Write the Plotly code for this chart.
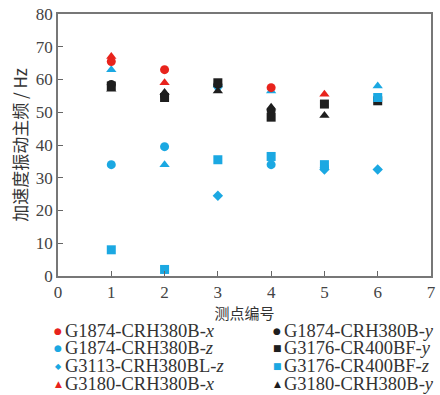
import plotly.graph_objects as go

# data
names = ["G1874-CRH380B-x", "G1874-CRH380B-y", "G1874-CRH380B-z", "G3176-CR400BF-y",
         "G3113-CRH380BL-z", "G3176-CR400BF-z", "G3180-CRH380B-x", "G3180-CRH380B-y"]
g1874_x_pts = [1, 2, 4];             g1874_x_val = [65.5, 63.0, 57.5]
g1874_y_pts = [1, 2, 3, 4];          g1874_y_val = [58.5, 55.0, 58.5, 50.5]
g1874_z_pts = [1, 2, 3, 4, 5];       g1874_z_val = [34.0, 39.5, 58.0, 34.0, 33.2]
g3113_z_pts = [3, 5, 6];             g3113_z_val = [24.5, 32.5, 32.5]
g3176_y_pts = [1, 2, 3, 4, 5, 6];    g3176_y_val = [58.0, 54.5, 59.0, 48.5, 52.5, 53.5]
g3176_z_pts = [1, 2, 3, 4, 5, 6];    g3176_z_val = [8.0, 2.0, 35.5, 36.5, 34.0, 54.5]
g3180_x_pts = [1, 2, 5];             g3180_x_val = [67.0, 59.0, 55.5]
g3180_y_pts = [1, 2, 3, 4, 5];       g3180_y_val = [57.0, 56.0, 56.5, 51.5, 49.0]
extra_tri_pts = [1, 2, 3, 4, 6];     extra_tri_val = [63.0, 34.0, 58.3, 56.5, 58.0]

RED = "#e8231c"
CYAN = "#1ba8e2"
BLACK = "#1e1e1e"

# (name, xs, ys, symbol, colour, legend glyph, legend column, legend row)
series = [
    (names[0], g1874_x_pts, g1874_x_val, "circle", RED, "●", 0, 0),
    (names[2], g1874_z_pts, g1874_z_val, "circle", CYAN, "●", 0, 1),
    (names[4], g3113_z_pts, g3113_z_val, "diamond", CYAN, "◆", 0, 2),
    (names[6], g3180_x_pts, g3180_x_val, "triangle-up", RED, "▲", 0, 3),
    (names[1], g1874_y_pts, g1874_y_val, "circle", BLACK, "●", 1, 0),
    (names[3], g3176_y_pts, g3176_y_val, "square", BLACK, "■", 1, 1),
    (names[5], g3176_z_pts, g3176_z_val, "square", CYAN, "■", 1, 2),
    (names[7], g3180_y_pts, g3180_y_val, "triangle-up", BLACK, "▲", 1, 3),
]

fig = go.Figure()
fig.add_trace(go.Scatter(x=extra_tri_pts, y=extra_tri_val, mode="markers", showlegend=False,
                         marker=dict(symbol="triangle-up", color=CYAN, size=9)))
for nm, xs, ys, sym, col, glyph, c, r in series:
    fig.add_trace(go.Scatter(x=xs, y=ys, mode="markers", name=nm, showlegend=False,
                             marker=dict(symbol=sym, color=col, size=9 if sym != "diamond" else 8)))

W, H = 440, 395
L, R, T, B = 58, 4, 14, 119
PW, PH = W - L - R, H - T - B
serif = "Liberation Serif, Times New Roman, serif"
ann = []
col_marker_x = [58, 280]
row_y = [330.5, 348.5, 366.5, 384.5]
for nm, xs, ys, sym, col, glyph, c, r in series:
    base, comp = nm[:-1], nm[-1]
    ypos = (H - B - row_y[r]) / PH
    ann.append(dict(x=(col_marker_x[c] - L) / PW, y=ypos,
                    xref="paper", yref="paper", showarrow=False, xanchor="center", yanchor="middle",
                    text=glyph, font=dict(family="DejaVu Sans", size=9 if glyph != "◆" else 8, color=col)))
    ann.append(dict(x=(col_marker_x[c] + 5 - L) / PW, y=ypos,
                    xref="paper", yref="paper", showarrow=False, xanchor="left", yanchor="middle",
                    text=f"{base}<i>{comp}</i>", font=dict(family=serif, size=18.5, color="#333")))

fig.update_layout(
    width=W, height=H,
    margin=dict(l=L, r=R, t=T, b=B),
    plot_bgcolor="white", paper_bgcolor="white",
    font=dict(family=serif, size=16, color="#444"),
    showlegend=False,
    annotations=ann,
    xaxis=dict(range=[0, 7], dtick=1, ticks="inside", ticklen=5, tickcolor="#666",
               showline=True, linecolor="#777", linewidth=1.5, mirror=True, showgrid=False,
               zeroline=False, tickfont=dict(family=serif, size=17, color="#444"),
               title=dict(text="测点编号", font=dict(family="Noto Sans CJK SC", size=15, color="#333"),
                          standoff=0)),
    yaxis=dict(range=[0, 80], dtick=10, ticks="inside", ticklen=5, tickcolor="#666",
               showline=True, linecolor="#777", linewidth=1.5, mirror=True, showgrid=False,
               zeroline=False, tickfont=dict(family=serif, size=17, color="#444"),
               title=dict(text="加速度振动主频 / Hz", font=dict(family="Noto Sans CJK SC", size=17, color="#333"),
                          standoff=4)),
)
fig.write_html("out.html")
